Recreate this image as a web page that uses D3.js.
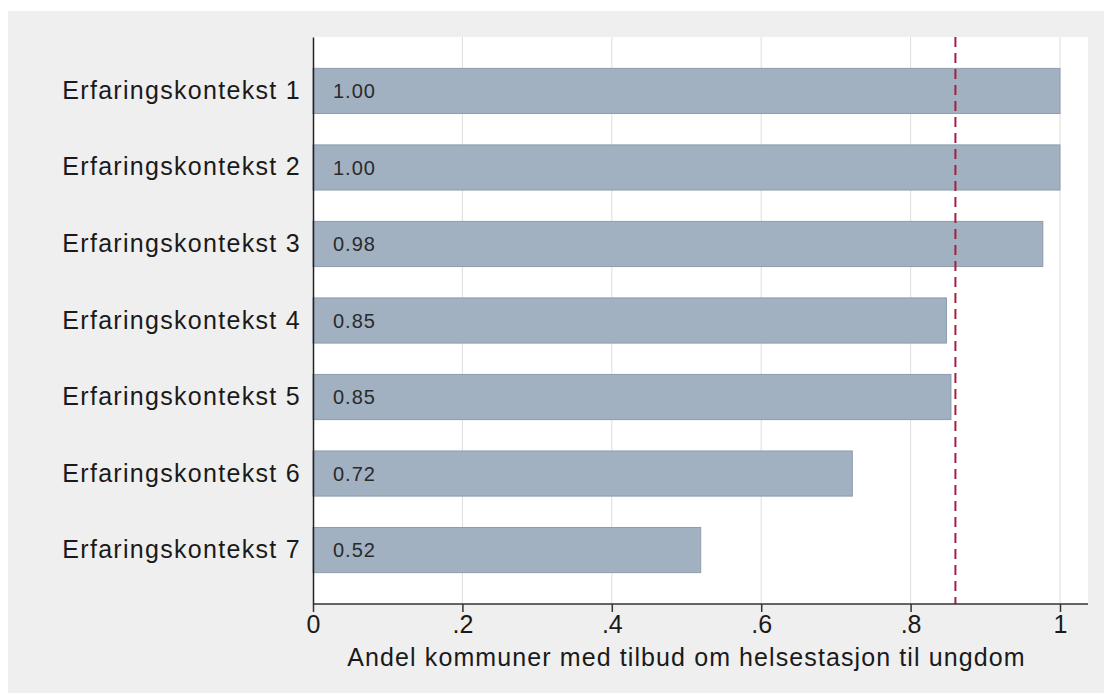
<!DOCTYPE html>
<html>
<head>
<meta charset="utf-8">
<script src="https://cdn.jsdelivr.net/npm/d3@7"></script>
<style>
  body { margin: 0; background: #ffffff; }
  svg { display: block; font-family: "Liberation Sans", Arial, sans-serif; }
</style>
</head>
<body>
<svg id="chart" width="1104" height="693"></svg>
<script>
// chart data
var categories = ["Erfaringskontekst 1", "Erfaringskontekst 2", "Erfaringskontekst 3",
  "Erfaringskontekst 4", "Erfaringskontekst 5", "Erfaringskontekst 6", "Erfaringskontekst 7"];
var shares = [1.0, 1.0, 0.977, 0.848, 0.854, 0.722, 0.519];
var shareLabels = ["1.00", "1.00", "0.98", "0.85", "0.85", "0.72", "0.52"];
var xTicks = [0, 0.2, 0.4, 0.6, 0.8, 1];
var xTickLabels = ["0", ".2", ".4", ".6", ".8", "1"];
var refLine = 0.86;
var xTitle = "Andel kommuner med tilbud om helsestasjon til ungdom";

var svg = d3.select("#chart");

let margin = {
  top:    37,
  right:  16,
  bottom: 89,
  left:   313
};
let plotWidth = 1104 - margin.left - margin.right;
let plotHeight = 693 - margin.top - margin.bottom;

// grey outer panel
svg.append("rect")
  .attr("x", 8).attr("y", 11)
  .attr("width", 1096).attr("height", 682)
  .attr("fill", "#efefef");

let plot = svg.append("g")
  .attr("id", "plot")
  .attr("transform", "translate(" + margin.left + "," + margin.top + ")");

plot.append("rect")
  .attr("width", plotWidth)
  .attr("height", plotHeight)
  .attr("fill", "#ffffff");

var xScale = d3.scaleLinear()
  .domain([0, 1])
  .range([0, 747]);

var yScale = d3.scaleBand()
  .domain(categories)
  .range([0, plotHeight])
  .paddingInner(0.41)
  .paddingOuter(0.41);

// gridlines
plot.selectAll("line.grid")
  .data(xTicks.slice(1))
  .enter().append("line")
  .attr("class", "grid")
  .attr("x1", d => xScale(d)).attr("x2", d => xScale(d))
  .attr("y1", 0).attr("y2", plotHeight)
  .attr("stroke", "#dedede")
  .attr("stroke-width", 1);

// bars
plot.selectAll("rect.bar")
  .data(shares)
  .enter().append("rect")
  .attr("class", "bar")
  .attr("x", xScale(0))
  .attr("y", (d, i) => yScale(categories[i]))
  .attr("width", d => xScale(d) - xScale(0))
  .attr("height", yScale.bandwidth())
  .attr("fill", "#a2b1c1")
  .attr("stroke", "#8d9cad")
  .attr("stroke-width", 1);

// value labels
plot.selectAll("text.val")
  .data(shareLabels)
  .enter().append("text")
  .attr("class", "val")
  .attr("x", 20)
  .attr("y", (d, i) => yScale(categories[i]) + yScale.bandwidth() / 2)
  .attr("dy", "0.36em")
  .attr("font-size", 20)
  .attr("letter-spacing", 1)
  .attr("fill", "#2a2a2a")
  .text(d => d);

// reference line
plot.append("line")
  .attr("x1", xScale(refLine)).attr("x2", xScale(refLine))
  .attr("y1", 0).attr("y2", plotHeight)
  .attr("stroke", "#a3213f")
  .attr("stroke-width", 2)
  .attr("stroke-dasharray", "10,6");

// y axis
let yAxis = d3.axisLeft(yScale).tickSize(0).tickPadding(12);
let yGroup = plot.append("g").attr("id", "y-axis").call(yAxis);
yGroup.select(".domain").attr("stroke", "#222").attr("stroke-width", 1.5);
yGroup.selectAll("text")
  .attr("font-size", 25)
  .attr("letter-spacing", 1.3)
  .attr("fill", "#1a1a1a")
  .style("font-family", "Liberation Sans, Arial, sans-serif");

// x axis
let xAxis = d3.axisBottom(xScale)
  .tickValues(xTicks)
  .tickFormat((d, i) => xTickLabels[i])
  .tickSize(8)
  .tickSizeOuter(0)
  .tickPadding(3);
let xGroup = plot.append("g").attr("id", "x-axis")
  .attr("transform", "translate(0," + plotHeight + ")")
  .call(xAxis);
xGroup.select(".domain")
  .attr("d", "M0,0H" + plotWidth)
  .attr("stroke", "#333").attr("stroke-width", 1.5);
xGroup.selectAll(".tick line").attr("stroke", "#333").attr("stroke-width", 1.5);
xGroup.selectAll("text")
  .attr("font-size", 25)
  .attr("fill", "#1a1a1a")
  .style("font-family", "Liberation Sans, Arial, sans-serif");

// x title
plot.append("text")
  .attr("x", xScale(0.5))
  .attr("y", plotHeight + 62)
  .attr("text-anchor", "middle")
  .attr("font-size", 25)
  .attr("letter-spacing", 1.1)
  .attr("fill", "#1a1a1a")
  .text(xTitle);
</script>
</body>
</html>
